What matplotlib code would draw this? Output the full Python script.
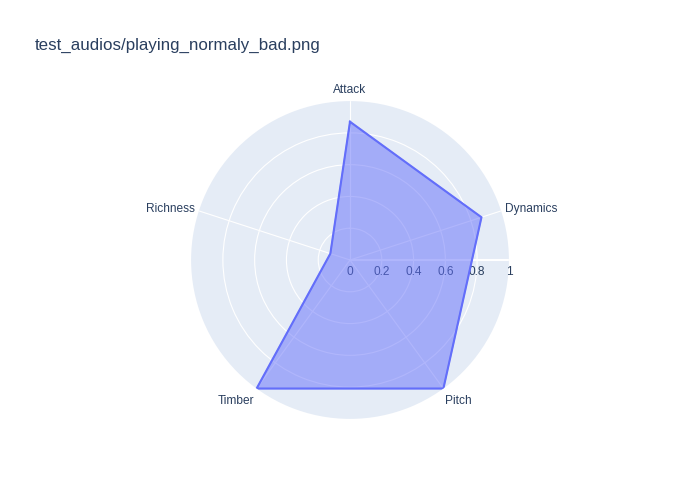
import numpy as np
import matplotlib.pyplot as plt
from matplotlib.transforms import offset_copy

plt.rcParams['font.family'] = ['Liberation Sans', 'DejaVu Sans']

# datos
categorias = ['Attack', 'Dynamics', 'Pitch', 'Timber', 'Richness']
valores = [0.87, 0.87, 1.0, 1.0, 0.13]
radial_ticks = [0, 0.2, 0.4, 0.6, 0.8, 1]
radial_labels = ['0', '0.2', '0.4', '0.6', '0.8', '1']

texto = '#2a3f5f'
azul = '#636efa'

fig = plt.figure(figsize=(7, 5), dpi=100)
ax = fig.add_axes([0.5 - 0.227, 0.48 - 0.318, 0.454, 0.636], projection='polar')
ax.set_theta_zero_location('N')
ax.set_theta_direction(-1)
ax.set_facecolor('#E5ECF6')
ax.spines['polar'].set_visible(False)

angulos = np.linspace(0, 2 * np.pi, len(categorias), endpoint=False)
ang_c = np.concatenate([angulos, angulos[:1]])
val_c = valores + valores[:1]

ax.set_ylim(0, 1)
ax.set_yticks([0.2, 0.4, 0.6, 0.8])
ax.set_yticklabels([])
ax.set_xticks(angulos)
ax.set_xticklabels([])
ax.grid(color='white', linewidth=0.8)

# etiquetas de categorías fuera del círculo (desplazamiento en px, alineación)
px = 0.72
ajustes = [(0, 5, 'center', 'bottom'), (4, 2, 'left', 'center'),
           (2, -6, 'left', 'top'), (-2, -6, 'right', 'top'),
           (-4, 2, 'right', 'center')]
for ang, cat, (dx, dy, ha, va) in zip(angulos, categorias, ajustes):
    tr = offset_copy(ax.transData, fig=fig, x=dx * px, y=dy * px, units='points')
    ax.text(ang, 1, cat, transform=tr, ha=ha, va=va, color=texto, fontsize=8.6)

# eje radial a la derecha
ax.plot([np.pi / 2, np.pi / 2], [0, 1], color='white', linewidth=1.5, zorder=2)
trans = offset_copy(ax.transData, fig=fig, x=0, y=-4, units='points')
for r, lab in zip(radial_ticks, radial_labels):
    ax.text(np.pi / 2, r, lab, transform=trans, ha='center', va='top',
            color=texto, fontsize=8.6)

ax.fill(ang_c, val_c, color=azul, alpha=0.5, zorder=3)
ax.plot(ang_c, val_c, color=azul, linewidth=1.5, zorder=4)

fig.text(35 / 700, 1 - 45 / 500, 'test_audios/playing_normaly_bad.png',
         color=texto, fontsize=12.2, va='center', ha='left')

fig.savefig('out.png', dpi=100)
